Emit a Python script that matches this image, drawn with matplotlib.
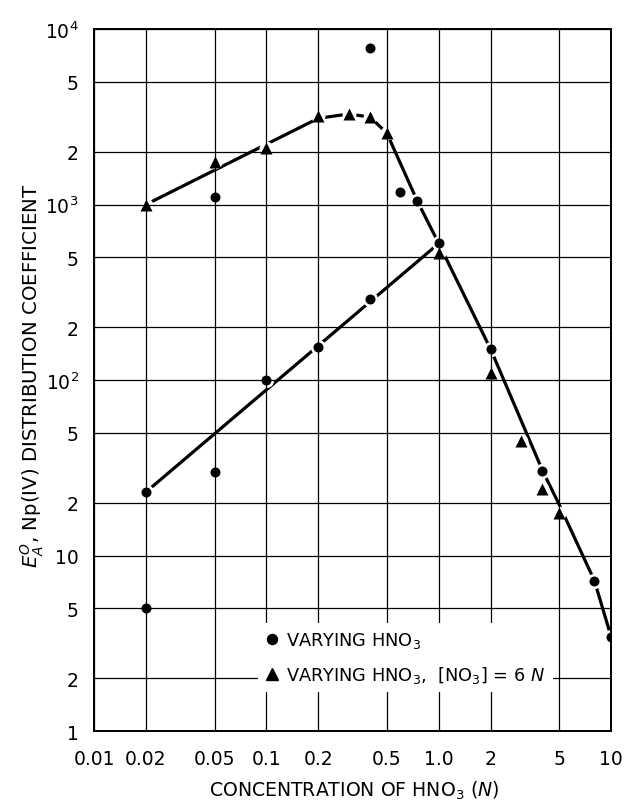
import matplotlib
matplotlib.use("Agg")
import matplotlib.pyplot as plt
from matplotlib.lines import Line2D
from matplotlib.ticker import FixedLocator, FixedFormatter, NullLocator

plt.rcParams['font.family'] = ['DejaVu Sans']
plt.rcParams['mathtext.fontset'] = 'dejavusans'
plt.rcParams['mathtext.default'] = 'regular'

# varying HNO3 (circles)
circ_x = [0.02, 0.02, 0.05, 0.05, 0.1, 0.2, 0.4, 0.4, 0.6, 0.75, 1.0, 2, 4, 8, 10]
circ_y = [5, 23, 30, 1100, 100, 155, 290, 7800, 1180, 1050, 600, 150, 30.5, 7.2, 3.45]

# varying HNO3, [NO3] = 6 N (triangles)
tri_x = [0.02, 0.05, 0.1, 0.2, 0.3, 0.4, 0.5, 1.0, 2, 3, 4, 5]
tri_y = [1000, 1750, 2100, 3200, 3300, 3150, 2550, 530, 110, 45, 24, 17.5]

# drawn curves
line1_x = [0.02, 1.0]
line1_y = [23, 600]
line2_x = [0.02, 0.2, 0.3, 0.4, 0.5, 0.75, 1.0, 2, 4, 5, 8, 10]
line2_y = [1000, 3100, 3280, 3150, 2550, 1050, 600, 150, 30.5, 19.5, 7.2, 3.45]

x_ticks = [0.01, 0.02, 0.05, 0.1, 0.2, 0.5, 1.0, 2, 5, 10]
x_labels = ['0.01', '0.02', '0.05', '0.1', '0.2', '0.5', '1.0', '2', '5', '10']
y_ticks = [1, 2, 5, 10, 20, 50, 100, 200, 500, 1000, 2000, 5000, 10000]
y_labels = ['1', '2', '5', '10', '2', '5', '$10^2$', '2', '5', '$10^3$', '2', '5', '$10^4$']

fig = plt.figure(figsize=(6.27, 8.03), dpi=100)
ax = fig.add_axes([0.150, 0.0884, 0.8246, 0.8742])
ax.set_xscale('log')
ax.set_yscale('log')
ax.set_xlim(0.01, 10)
ax.set_ylim(1, 10000)

ax.xaxis.set_major_locator(FixedLocator(x_ticks))
ax.xaxis.set_major_formatter(FixedFormatter(x_labels))
ax.xaxis.set_minor_locator(NullLocator())
ax.yaxis.set_major_locator(FixedLocator(y_ticks))
ax.yaxis.set_major_formatter(FixedFormatter(y_labels))
ax.yaxis.set_minor_locator(NullLocator())
ax.tick_params(axis='x', length=0, pad=13, labelsize=13.5)
ax.tick_params(axis='y', length=0, pad=11, labelsize=13.5)

# grid above lines so it shows through the gaps around markers
ax.set_axisbelow(False)
ax.grid(True, which='major', color='black', lw=0.9)
for s in ax.spines.values():
    s.set_linewidth(1.4)

ax.plot(line1_x, line1_y, color='black', lw=2.3, zorder=2,
        solid_capstyle='butt')
ax.plot(line2_x, line2_y, color='black', lw=2.3, zorder=2,
        solid_capstyle='butt')

# white discs break the curves around each point
ax.plot(circ_x, circ_y, 'o', ms=11, mfc='white', mec='none', zorder=2.2)
ax.plot(tri_x, tri_y, 'o', ms=10, mfc='white', mec='none', zorder=2.2)

ax.plot(circ_x, circ_y, 'o', ms=7.2, color='black', mec='none', zorder=3)
ax.plot(tri_x, tri_y, '^', ms=8.2, color='black', mec='none', zorder=3)

handles = [Line2D([], [], marker='o', ls='none', color='black', ms=7.2),
           Line2D([], [], marker='^', ls='none', color='black', ms=8.2)]
labels = ['VARYING HNO$_3$', 'VARYING HNO$_3$,  [NO$_3$] = 6 $\\mathit{N}$']
leg = ax.legend(handles, labels, loc='upper left', bbox_to_anchor=(0.317, 0.154),
                frameon=True, fancybox=False, framealpha=1, facecolor='white',
                edgecolor='none', fontsize=12.8, handlelength=0.8,
                handletextpad=0.4, labelspacing=0.8, borderpad=0.4,
                borderaxespad=0)

ax.set_xlabel('CONCENTRATION OF HNO$_3$ ($\\mathit{N}$)', fontsize=13.6)
ax.xaxis.set_label_coords(0.503, -0.068)
ax.set_ylabel('$\\mathit{E_A^O}$, Np(IV) DISTRIBUTION COEFFICIENT', fontsize=14.2)
ax.yaxis.set_label_coords(-0.092, 0.507)

fig.savefig('out.png', dpi=100)
